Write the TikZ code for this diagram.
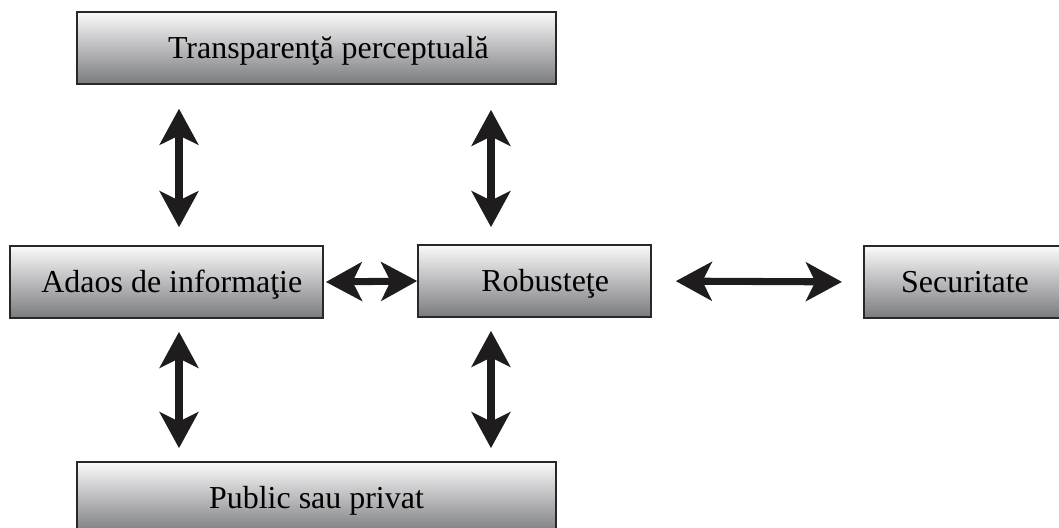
\documentclass[tikz,border=0pt]{standalone}
\usepackage{fontspec}
\setmainfont{Liberation Serif}
\usepackage{xcolor}
\usetikzlibrary{arrows.meta}
\definecolor{boxtop}{RGB}{250,250,250}
\definecolor{boxbot}{RGB}{122,123,127}
\definecolor{boxline}{RGB}{40,40,40}
\definecolor{arrowblk}{RGB}{30,28,29}

\begin{document}
\begin{tikzpicture}[x=0.7513pt,y=-0.7513pt,
    box/.style={draw=boxline, line width=1.3pt, top color=boxtop, bottom color=boxbot,
      minimum height=54pt, text height=16pt, text depth=0pt, font=\fontsize{24}{28}\selectfont},
    link/.style={arrowblk, line width=5.3pt, {Stealth[length=27pt,width=29pt,inset=7pt]}-{Stealth[length=27pt,width=29pt,inset=7pt]}}]
    \useasboundingbox (0,0) rectangle (1059,528);

    % boxes
    \node[box, minimum width=359.9pt] (transp) at (316.5,48) {\hspace{18pt}Transparenţă perceptuală};
    \node[box, minimum width=235.2pt] (adaos) at (166.5,282) {\hspace{8pt}Adaos de informaţie};
    \node[box, minimum width=175pt] (robust) at (534.5,281) {\hspace{16pt}Robusteţe};
    \node[box, minimum width=152pt] (secur) at (965,282) {Securitate};
    \node[box, minimum width=359.9pt] (public) at (316.5,498) {Public sau privat};

    % arrows
    \draw[link, shorten <=13.5pt, shorten >=18pt] ([xshift=9.4pt]adaos.north) -- ([xshift=9.4pt]adaos.north |- transp.south);
    \draw[link, shorten <=12.8pt, shorten >=18.8pt] ([xshift=-32.7pt]robust.north) -- ([xshift=-32.7pt]robust.north |- transp.south);
    \draw[link, shorten <=9.8pt, shorten >=9.8pt] ([xshift=9.4pt]adaos.south) -- ([xshift=9.4pt]adaos.south |- public.north);
    \draw[link, shorten <=9.8pt, shorten >=9.8pt] ([xshift=-32.7pt]robust.south) -- ([xshift=-32.7pt]robust.south |- public.north);
    \draw[link, shorten <=1.5pt] (adaos.east) -- (robust.west);
    \draw[link, shorten <=18pt, shorten >=15.8pt] (robust.east) -- (secur.west);

\end{tikzpicture}
\end{document}
